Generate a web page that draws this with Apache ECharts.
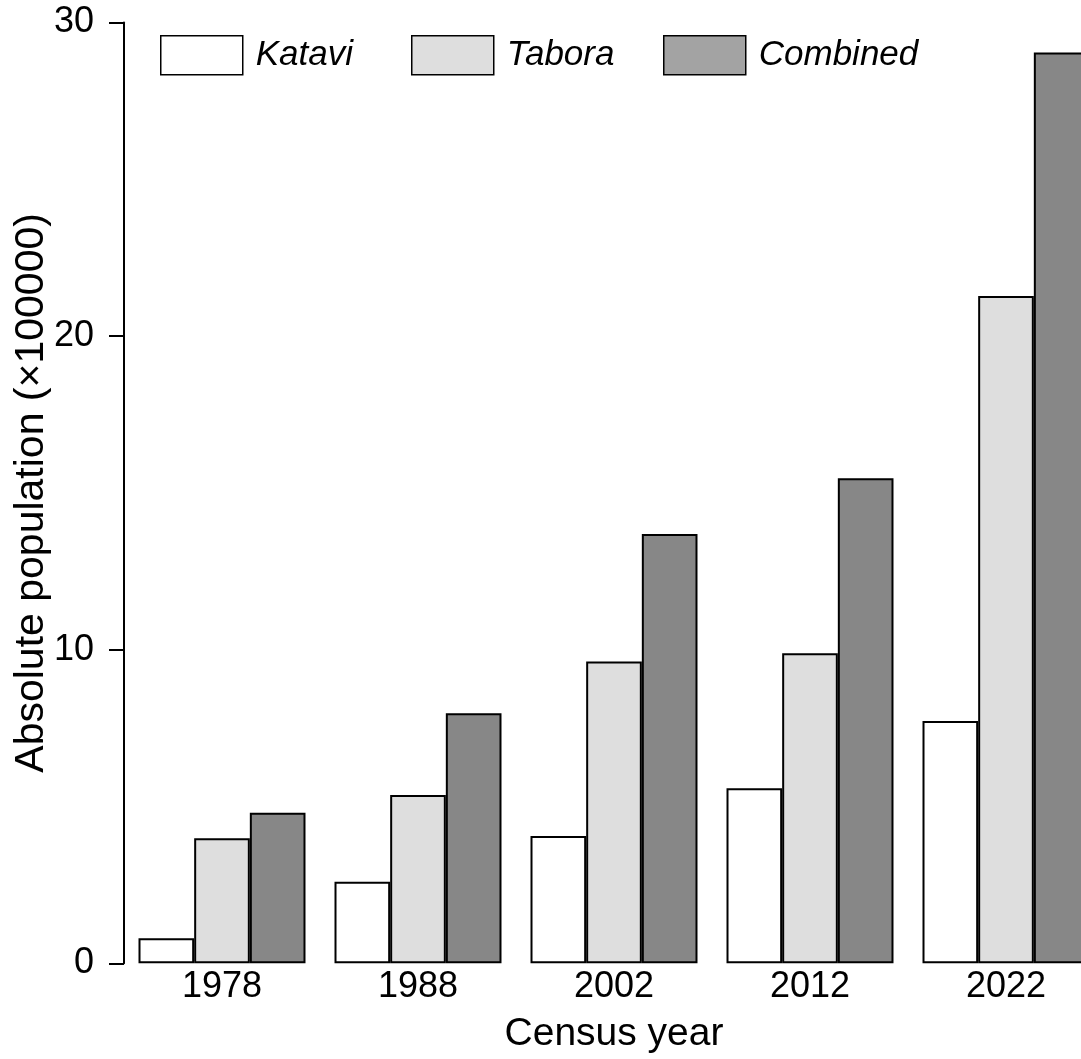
<!DOCTYPE html>
<html>
<head>
<meta charset="utf-8">
<script src="https://cdn.jsdelivr.net/npm/echarts@6/dist/echarts.min.js"></script>
<style>html,body{margin:0;padding:0;background:#fff;}#c{width:1081px;height:1059px;}</style>
</head>
<body>
<div id="c"></div>
<script>
const categories = ['1978', '1988', '2002', '2012', '2022'];
const katavi = [0.80, 2.60, 4.06, 5.58, 7.73];
const tabora = [3.99, 5.37, 9.62, 9.89, 21.28];
const combined = [4.80, 7.97, 13.69, 15.47, 29.04];
const yTicks = [0, 10, 20, 30];

const FONT = '"Liberation Sans", Arial, sans-serif';
const chart = echarts.init(document.getElementById('c'));

function legendAt(name, left, color) {
  return {
    data: [{ name: name, itemStyle: { color: color, borderColor: '#000', borderWidth: 1.5 } }],
    left: left, top: 35, padding: 0,
    itemWidth: 82, itemHeight: 39,
    icon: 'rect',
    selectedMode: false,
    textStyle: { fontFamily: FONT, fontSize: 35, fontStyle: 'italic', color: '#000', padding: [0, 0, 0, 8] }
  };
}

const barBase = { type: 'bar', barGap: '0%', barCategoryGap: '14.8%' };

chart.setOption({
  backgroundColor: '#fff',
  animation: false,
  legend: [
    legendAt('Katavi', 160, '#ffffff'),
    legendAt('Tabora', 411, '#dedede'),
    legendAt('Combined', 663, '#a3a3a3')
  ],
  grid: { left: 124, width: 980, top: 22.5, bottom: 95.7, containLabel: false, outerBoundsMode: 'none' },
  xAxis: {
    type: 'category',
    data: categories,
    axisLine: { show: false },
    axisTick: { show: false },
    axisLabel: { fontFamily: FONT, fontSize: 36, color: '#000', margin: 6 },
    name: 'Census year',
    nameLocation: 'middle',
    nameGap: 51,
    nameMoveOverlap: false,
    nameTextStyle: { fontFamily: FONT, fontSize: 39, color: '#000' }
  },
  yAxis: {
    type: 'value',
    min: yTicks[0], max: yTicks[yTicks.length - 1], interval: 10,
    splitLine: { show: false },
    axisLine: { show: true, lineStyle: { color: '#000', width: 2 } },
    axisTick: { show: true, length: 15, lineStyle: { color: '#000', width: 2 } },
    axisLabel: { fontFamily: FONT, fontSize: 36, color: '#000', margin: 30 },
    name: 'Absolute population (×100000)',
    nameLocation: 'middle',
    nameRotate: 90,
    nameGap: 72,
    nameMoveOverlap: false,
    nameTextStyle: { fontFamily: FONT, fontSize: 41, color: '#000' }
  },
  series: [
    Object.assign({}, barBase, { name: 'Katavi', data: katavi,
      itemStyle: { color: '#ffffff', borderColor: '#000', borderWidth: 2 } }),
    Object.assign({}, barBase, { name: 'Tabora', data: tabora,
      itemStyle: { color: '#dedede', borderColor: '#000', borderWidth: 2 } }),
    Object.assign({}, barBase, { name: 'Combined', data: combined,
      itemStyle: { color: '#878787', borderColor: '#000', borderWidth: 2 } })
  ]
});
</script>
</body>
</html>
